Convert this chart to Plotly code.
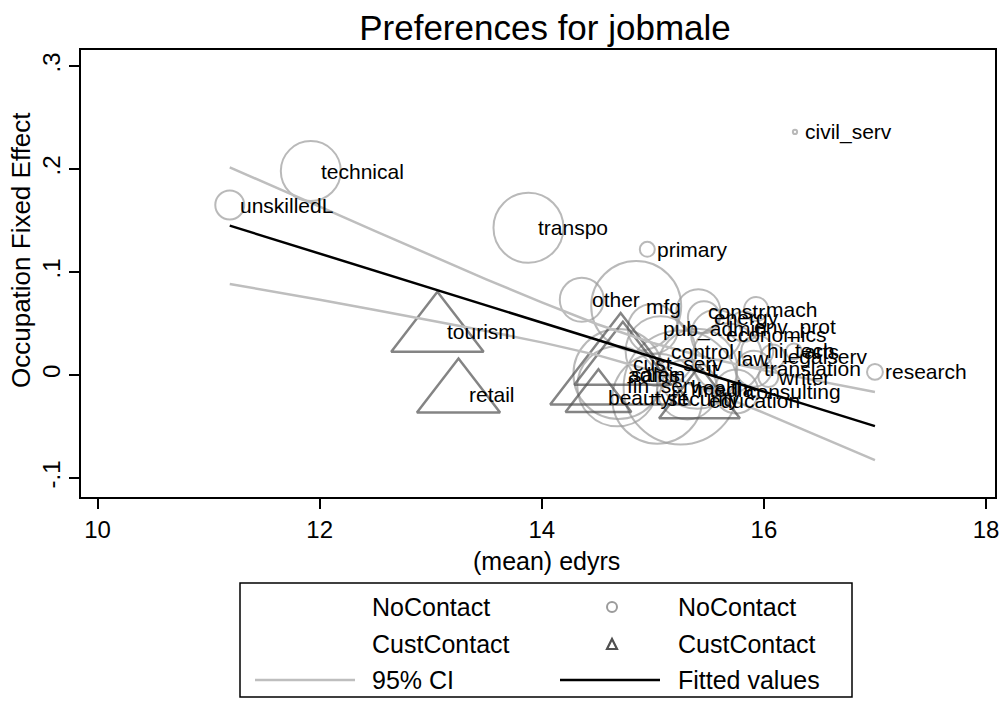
import numpy as np
import plotly.graph_objects as go

# ---------------- data ----------------
# Occupations without customer contact (circles)
nc_labels = ["unskilledL", "technical", "transpo", "primary", "civil_serv", "research",
             "other", "mfg", "constr", "energy", "mach", "env_prot", "economics",
             "control", "hi_tech", "legalserv", "arts", "translation", "writer",
             "consulting", "media", "fin_serv", "health", "admin", "it", "security",
             "law", "pub_admin"]
nc_edyrs = [11.19, 11.92, 13.88, 14.95, 16.28, 17.00,
            14.36, 14.85, 15.41, 15.46, 15.93, 15.82, 15.57,
            15.07, 15.94, 16.08, 16.27, 15.91, 16.04,
            15.75, 15.31, 14.68, 15.25, 14.69, 15.40, 15.04,
            15.67, 15.00]
nc_fe = [0.165, 0.198, 0.143, 0.122, 0.236, 0.003,
         0.073, 0.067, 0.062, 0.056, 0.064, 0.047, 0.039,
         0.023, 0.023, 0.018, 0.023, 0.006, -0.002,
         -0.016, -0.014, -0.011, -0.012, 0.001, 0.006, -0.023,
         0.016, 0.045]
nc_weight = [93, 400, 544, 25, 2, 28,
             215, 900, 215, 114, 64, 100, 278,
             544, 114, 64, 28, 144, 44,
             215, 400, 711, 1444, 900, 711, 900,
             544, 278]

# Occupations with customer contact (triangles)
cc_labels = ["tourism", "retail", "sales", "cust_serv", "beautyfit", "education"]
cc_edyrs = [13.06, 13.25, 14.71, 14.73, 14.51, 15.42]
cc_fe = [0.042, -0.019, 0.001, 0.011, -0.022, -0.025]
cc_weight = [711, 576, 1654, 784, 361, 544]

# Linear fit and 95% CI
fit_x = [11.19, 17.00]
fit_y = [0.145, -0.0496]
ci_x = [11.19, 11.5, 12.0, 12.5, 13.0, 13.5, 14.0, 14.5, 15.0, 15.5, 16.0, 16.5, 17.0]
ci_upper = [0.2016, 0.1872, 0.1634, 0.1397, 0.1161, 0.0929, 0.0705, 0.0493, 0.0311,
            0.0166, 0.0045, -0.0063, -0.0165]
ci_lower = [0.0884, 0.0826, 0.0730, 0.0631, 0.0531, 0.0427, 0.0317, 0.0193, 0.0039,
            -0.0152, -0.0367, -0.0595, -0.0827]

# ---------------- figure ----------------
FONT = "Liberation Sans, Arial, Helvetica, sans-serif"
CIRC = "rgb(155,155,155)"
TRI = "rgb(80,80,80)"
CI_COL = "rgb(190,190,190)"

# the page body has an 8px margin: keep the figure inside the window and shift by 8
OFF = 8
FW, FH = 1008 - 2 * OFF, 710 - 2 * OFF

# plot-area edges in screen pixels
L, R, T, B = 81, 995, 50, 497
W, H = R - L, B - T
X10_PX, PX_PER_UNIT = 97.6, 111.05
X_LO = 10 - (X10_PX - L) / PX_PER_UNIT
X_HI = 10 + (R - X10_PX) / PX_PER_UNIT

fig = go.Figure()

fig.add_trace(go.Scatter(
    x=nc_edyrs, y=nc_fe, mode="markers",
    marker=dict(symbol="circle-open", size=3 * np.sqrt(nc_weight),
                color=CIRC, line=dict(color=CIRC, width=2)),
    showlegend=False, hoverinfo="skip"))

fig.add_trace(go.Scatter(
    x=cc_edyrs, y=cc_fe, mode="markers",
    marker=dict(symbol="triangle-up-open", size=3 * np.sqrt(cc_weight),
                color=TRI, line=dict(color=TRI, width=2.5)),
    showlegend=False, hoverinfo="skip"))

fig.add_trace(go.Scatter(x=ci_x, y=ci_upper, mode="lines",
                         line=dict(color=CI_COL, width=2.5), showlegend=False))
fig.add_trace(go.Scatter(x=ci_x, y=ci_lower, mode="lines",
                         line=dict(color=CI_COL, width=2.5), showlegend=False))
fig.add_trace(go.Scatter(x=fit_x, y=fit_y, mode="lines",
                         line=dict(color="black", width=2.5), showlegend=False))

annotations = []
for lab, xv, yv in list(zip(nc_labels, nc_edyrs, nc_fe)) + list(zip(cc_labels, cc_edyrs, cc_fe)):
    annotations.append(dict(x=xv, y=yv, xref="x", yref="y", text=lab, showarrow=False,
                            xanchor="left", yanchor="middle", xshift=8,
                            font=dict(family=FONT, size=21, color="black")))

def px(xp):
    return (xp - L) / W
def py(yp):
    return (B - yp) / H

# axis titles
annotations.append(dict(x=px(546), y=py(561), xref="paper", yref="paper",
                        text="(mean) edyrs", showarrow=False, xanchor="center",
                        yanchor="middle", font=dict(family=FONT, size=25, color="black")))
annotations.append(dict(x=px(21), y=py(250), xref="paper", yref="paper",
                        text="Occupation Fixed Effect", showarrow=False, textangle=-90,
                        xanchor="center", yanchor="middle",
                        font=dict(family=FONT, size=26, color="black")))

# legend texts
rows = [607, 644, 680]
leg_left = ["NoContact", "CustContact", "95% CI"]
leg_right = ["NoContact", "CustContact", "Fitted values"]
for ry, t1, t2 in zip(rows, leg_left, leg_right):
    annotations.append(dict(x=px(370), y=py(ry), xref="paper", yref="paper", text=t1,
                            showarrow=False, xanchor="left", yanchor="middle",
                            font=dict(family=FONT, size=25, color="black")))
    annotations.append(dict(x=px(676), y=py(ry), xref="paper", yref="paper", text=t2,
                            showarrow=False, xanchor="left", yanchor="middle",
                            font=dict(family=FONT, size=25, color="black")))

shapes = [
    dict(type="rect", xref="paper", yref="paper", x0=px(240), x1=px(852),
         y0=py(583), y1=py(697), line=dict(color="black", width=1.5)),
    dict(type="line", xref="paper", yref="paper", x0=px(255), x1=px(355),
         y0=py(680), y1=py(680), line=dict(color=CI_COL, width=2.5)),
    dict(type="line", xref="paper", yref="paper", x0=px(560), x1=px(660),
         y0=py(680), y1=py(680), line=dict(color="black", width=2.5)),
    dict(type="circle", xref="paper", yref="paper", xsizemode="pixel", ysizemode="pixel",
         xanchor=px(612), yanchor=py(607), x0=-5, x1=5, y0=-5, y1=5,
         line=dict(color=CIRC, width=2)),
    dict(type="path", xref="paper", yref="paper", xsizemode="pixel", ysizemode="pixel",
         xanchor=px(612), yanchor=py(644), path="M -5,-5 L 5,-5 L 0,5 Z",
         line=dict(color=TRI, width=2.2)),
]

fig.update_layout(
    width=FW, height=FH,
    paper_bgcolor="white", plot_bgcolor="white",
    margin=dict(l=L - OFF, r=FW - (R - OFF), t=T - OFF, b=FH - (B - OFF), pad=0,
                autoexpand=False),
    title=dict(text="Preferences for jobmale", x=px(545), xref="paper", xanchor="center",
               y=1 - (28 - OFF) / FH, yref="container", yanchor="middle",
               font=dict(family=FONT, size=35, color="black")),
    font=dict(family=FONT, color="black"),
    annotations=annotations,
    shapes=shapes,
    showlegend=False,
)

fig.update_xaxes(range=[X_LO, X_HI], tickvals=[10, 12, 14, 16, 18], automargin=False,
                 ticklabeloverflow="allow",
                 ticks="outside", ticklen=10, tickwidth=1.5, tickcolor="black",
                 showline=True, linecolor="black", linewidth=1.5, mirror=True,
                 showgrid=False, zeroline=False,
                 tickfont=dict(family=FONT, size=24, color="black"))
fig.update_yaxes(range=[-0.1184, 0.3155], tickvals=[-0.1, 0, 0.1, 0.2, 0.3], automargin=False,
                 ticktext=["-.1", "0", ".1", ".2", ".3"], tickangle=-90,
                 ticks="outside", ticklen=10, tickwidth=1.5, tickcolor="black",
                 showline=True, linecolor="black", linewidth=1.5, mirror=True,
                 showgrid=False, zeroline=False,
                 tickfont=dict(family=FONT, size=24, color="black"))

fig.write_html("out.html")
